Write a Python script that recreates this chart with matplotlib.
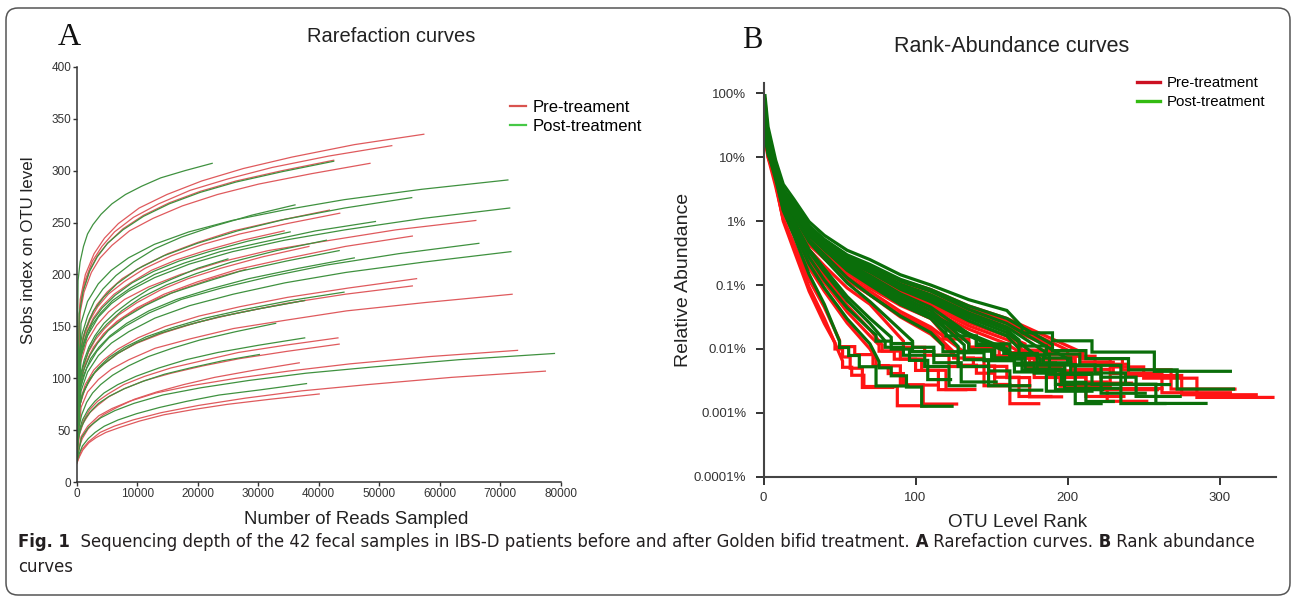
import numpy as np
import matplotlib
matplotlib.use("Agg")
import matplotlib.pyplot as plt
from matplotlib.lines import Line2D
from matplotlib.patches import FancyBboxPatch
from matplotlib.transforms import IdentityTransform

plt.rcParams['font.family'] = ['Liberation Sans', 'DejaVu Sans']

W, H = 1292, 599

# ---- rarefaction: reads sampled (depth) and Sobs read at fractions of each depth ----
RARE_FRAC = [0, 0.01, 0.025, 0.05, 0.08, 0.12, 0.18, 0.26, 0.36, 0.48, 0.62, 0.8, 1.0]

PRE_DEPTH = [57400, 52100, 48500, 42500, 41800, 43500, 66000, 34300, 55500, 38400,
             56200, 55500, 72000, 37700, 43200, 43400, 36800, 72900, 77500, 40100, 28000]
PRE_SOBS = [
    [40, 176, 200, 220, 235, 249, 264, 277, 290, 302, 313, 325, 335],
    [38, 170, 193, 213, 227, 241, 255, 268, 281, 292, 303, 314, 324],
    [36, 161, 183, 202, 216, 228, 242, 254, 266, 277, 287, 297, 307],
    [35, 163, 185, 204, 218, 230, 244, 257, 269, 280, 290, 300, 310],
    [33, 120, 140, 157, 171, 183, 196, 208, 220, 231, 242, 252, 262],
    [32, 118, 138, 156, 169, 181, 193, 206, 218, 229, 239, 249, 259],
    [30, 115, 135, 151, 164, 176, 188, 200, 212, 223, 232, 243, 252],
    [32, 111, 129, 145, 158, 169, 181, 192, 204, 214, 223, 233, 242],
    [28, 94, 113, 130, 143, 155, 168, 181, 193, 205, 215, 227, 237],
    [30, 90, 109, 125, 137, 148, 161, 173, 185, 196, 206, 217, 227],
    [26, 78, 94, 108, 118, 128, 139, 150, 160, 169, 178, 187, 196],
    [25, 75, 90, 104, 114, 124, 134, 144, 154, 163, 172, 181, 189],
    [22, 72, 87, 99, 109, 118, 129, 138, 148, 156, 165, 173, 181],
    [26, 70, 84, 96, 106, 114, 124, 134, 143, 151, 159, 167, 175],
    [22, 48, 59, 70, 78, 85, 94, 102, 110, 117, 125, 132, 139],
    [21, 46, 57, 67, 74, 82, 90, 98, 105, 112, 119, 126, 133],
    [20, 33, 42, 51, 58, 65, 72, 80, 87, 94, 101, 108, 115],
    [20, 44, 54, 64, 71, 78, 86, 93, 100, 107, 114, 121, 127],
    [18, 31, 39, 48, 54, 60, 67, 74, 81, 88, 94, 101, 107],
    [18, 24, 31, 38, 43, 48, 53, 59, 65, 70, 75, 80, 85],
    [30, 82, 98, 113, 124, 134, 146, 157, 167, 177, 186, 196, 205],
]

POST_DEPTH = [22400, 42500, 71300, 55400, 36100, 71600, 49400, 35300, 41300, 66500,
              43400, 71800, 45900, 44200, 37700, 32900, 37700, 30200, 79000, 38000, 25000]
POST_SOBS = [
    [45, 194, 212, 227, 239, 248, 258, 268, 277, 285, 293, 300, 307],
    [38, 162, 184, 203, 217, 230, 243, 256, 268, 279, 289, 299, 309],
    [30, 153, 174, 191, 204, 216, 229, 241, 252, 262, 272, 282, 291],
    [32, 125, 146, 165, 178, 191, 205, 218, 230, 242, 253, 264, 274],
    [35, 122, 143, 160, 174, 186, 199, 212, 225, 236, 246, 257, 267],
    [28, 121, 141, 159, 172, 184, 197, 210, 222, 233, 243, 254, 264],
    [30, 115, 134, 151, 163, 175, 187, 200, 211, 222, 231, 242, 251],
    [33, 110, 129, 145, 157, 168, 180, 192, 203, 213, 222, 232, 241],
    [30, 93, 111, 128, 141, 152, 165, 178, 190, 201, 212, 223, 233],
    [26, 92, 110, 126, 139, 150, 163, 176, 187, 198, 209, 220, 230],
    [28, 89, 107, 122, 134, 146, 158, 170, 182, 192, 203, 213, 223],
    [25, 88, 106, 122, 134, 145, 158, 170, 181, 192, 202, 212, 222],
    [27, 86, 103, 119, 130, 141, 153, 165, 176, 186, 196, 206, 216],
    [26, 73, 87, 100, 110, 120, 130, 140, 149, 158, 166, 175, 183],
    [28, 70, 84, 96, 106, 114, 124, 134, 143, 151, 159, 167, 175],
    [25, 53, 65, 77, 86, 94, 103, 112, 121, 129, 137, 145, 153],
    [23, 49, 60, 70, 78, 86, 94, 102, 110, 118, 125, 132, 139],
    [20, 43, 53, 62, 69, 76, 83, 90, 97, 104, 110, 117, 123],
    [20, 43, 53, 62, 69, 76, 84, 91, 98, 105, 111, 118, 124],
    [19, 27, 35, 42, 48, 54, 60, 66, 72, 78, 84, 89, 95],
    [32, 86, 103, 118, 130, 141, 153, 164, 175, 186, 195, 206, 215],
]

# ---- rank-abundance: % at head ranks, then ranks where read count falls to 4, 3, 2, 1 ----
HEAD_RANKS = [1, 3, 8, 13, 20, 30, 40, 55, 70, 90, 110, 135, 160]

PRE_HEAD = [
    [28, 14, 6, 2.7, 1.7, 0.78, 0.5, 0.285, 0.2, 0.12, 0.085, 0.047, 0.03],
    [35, 15, 6.5, 2.9, 1.8, 0.79, 0.48, 0.27, 0.19, 0.113, 0.08, 0.043, 0.027],
    [22, 12, 5.5, 2.5, 1.6, 0.72, 0.45, 0.256, 0.18, 0.103, 0.07, 0.0365, 0.022],
    [45, 18, 6.5, 2.8, 1.7, 0.76, 0.47, 0.26, 0.18, 0.103, 0.07, 0.039, 0.025],
    [25, 12, 5, 2.25, 1.4, 0.64, 0.4, 0.22, 0.15, 0.08, 0.05, 0.026, 0.016],
    [55, 20, 6.5, 2.65, 1.5, 0.64, 0.38, 0.2, 0.13, 0.07, 0.045, 0.023, 0.014],
    [30, 13, 5.5, 2.36, 1.4, 0.64, 0.4, 0.213, 0.14, 0.077, 0.05, 0.026, 0.016],
    [18, 10, 4.5, 2.05, 1.3, 0.6, 0.38, 0.2, 0.13, 0.066, 0.04],
    [40, 15, 5.5, 2.27, 1.3, 0.58, 0.36, 0.187, 0.12, 0.064, 0.04, 0.0204, 0.012],
    [30, 12, 5, 2.08, 1.2, 0.535, 0.33, 0.163, 0.1, 0.05, 0.03],
    [48, 16, 5, 2.0, 1.1, 0.47, 0.28, 0.135, 0.08, 0.0386, 0.022],
    [25, 11, 4.5, 1.8, 1.0, 0.433, 0.26, 0.121, 0.07, 0.0344, 0.02],
    [35, 13, 4.5, 1.8, 1.0, 0.433, 0.26, 0.121, 0.07, 0.0317, 0.017],
    [60, 18, 5, 1.8, 0.9, 0.36, 0.2, 0.09, 0.05],
    [40, 14, 4.5, 1.61, 0.8, 0.285, 0.14, 0.048, 0.02],
    [70, 20, 5, 1.59, 0.7, 0.236, 0.11, 0.038, 0.016],
    [30, 10, 3.5, 1.07, 0.45, 0.121, 0.045],
    [45, 15, 4.5, 1.4, 0.6, 0.186, 0.08, 0.0255, 0.01],
    [65, 18, 4, 1.07, 0.4, 0.093, 0.03],
    [80, 20, 4, 1.0, 0.35, 0.08, 0.025],
    [35, 13, 5, 2.08, 1.2, 0.527, 0.32, 0.153, 0.09, 0.048, 0.03],
]
PRE_TAIL = [
    [210, 228, 250, 285], [200, 218, 240, 275], [190, 208, 230, 262], [188, 210, 236, 268],
    [172, 188, 205, 228], [168, 185, 203, 222], [175, 192, 212, 226], [140, 160, 180, 205],
    [168, 182, 198, 212], [135, 152, 172, 195], [132, 145, 160, 175], [125, 138, 152, 168],
    [128, 140, 152, 162], [92, 106, 122, 145], [78, 90, 104, 120], [76, 86, 100, 115],
    [50, 60, 72, 90], [74, 82, 92, 105], [52, 58, 66, 88], [47, 52, 57, 65],
    [118, 135, 155, 178],
]

POST_HEAD = [
    [92, 30, 9, 3.78, 2.2, 0.98, 0.6, 0.35, 0.25, 0.145, 0.1, 0.059, 0.04],
    [30, 14, 6.5, 3.0, 1.9, 0.845, 0.52, 0.297, 0.21, 0.123, 0.085, 0.047, 0.03],
    [35, 15, 6.5, 2.9, 1.8, 0.81, 0.5, 0.285, 0.2, 0.116, 0.08, 0.0416, 0.025],
    [25, 12, 6, 2.72, 1.7, 0.76, 0.47, 0.26, 0.18, 0.103, 0.07, 0.0365, 0.022],
    [50, 20, 7.5, 3.2, 1.9, 0.83, 0.5, 0.27, 0.18, 0.1, 0.065, 0.0335, 0.02],
    [28, 13, 6, 2.63, 1.6, 0.713, 0.44, 0.246, 0.17, 0.093, 0.06, 0.0306, 0.018],
    [42, 17, 6.5, 2.74, 1.6, 0.697, 0.42, 0.233, 0.16, 0.086, 0.055, 0.0276, 0.016],
    [22, 11, 5.5, 2.44, 1.5, 0.675, 0.42, 0.218, 0.14, 0.073, 0.045],
    [33, 14, 6, 2.55, 1.5, 0.66, 0.4, 0.205, 0.13, 0.066, 0.04],
    [55, 20, 7, 2.85, 1.6, 0.68, 0.4, 0.197, 0.12, 0.06, 0.035, 0.0174, 0.01],
    [35, 14, 5.5, 2.36, 1.4, 0.62, 0.38, 0.192, 0.12, 0.06, 0.035],
    [30, 13, 5.5, 2.36, 1.4, 0.61, 0.37, 0.182, 0.11, 0.055, 0.033, 0.016, 0.009],
    [45, 16, 6, 2.46, 1.4, 0.6, 0.36, 0.17, 0.1, 0.05, 0.03],
    [30, 12, 5, 2.08, 1.2, 0.51, 0.3, 0.13, 0.07, 0.0327, 0.018],
    [60, 19, 6, 2.28, 1.2, 0.475, 0.26, 0.108, 0.055],
    [35, 13, 5, 1.9, 1.0, 0.36, 0.18, 0.066, 0.03],
    [40, 14, 5, 1.85, 0.95, 0.33, 0.16, 0.057, 0.025],
    [55, 17, 5, 1.75, 0.85, 0.271, 0.12, 0.044, 0.02],
    [33, 12, 4.5, 1.51, 0.7, 0.213, 0.09, 0.0296, 0.012],
    [70, 20, 5, 1.47, 0.6, 0.147, 0.05],
    [48, 17, 6, 2.46, 1.4, 0.6, 0.36, 0.179, 0.11, 0.057, 0.035],
]
POST_TAIL = [
    [170, 190, 216, 257], [190, 212, 240, 272], [200, 218, 238, 258], [185, 202, 222, 245],
    [168, 186, 208, 235], [182, 198, 216, 235], [168, 184, 202, 222], [140, 158, 180, 205],
    [135, 152, 172, 198], [165, 180, 196, 212], [132, 150, 170, 192], [165, 178, 192, 205],
    [128, 145, 165, 186], [118, 132, 148, 162], [98, 112, 128, 148], [84, 98, 112, 130],
    [80, 92, 106, 122], [74, 84, 96, 108], [76, 84, 94, 104], [50, 56, 63, 74],
    [120, 140, 162, 188],
]

TICK_PCT = [1e-4, 1e-3, 1e-2, 0.1, 1, 10, 100]
TICK_PCT_LABELS = ['0.0001%', '0.001%', '0.01%', '0.1%', '1%', '10%', '100%']


def px_rect(x0, y0, x1, y1):
    return [x0 / W, 1 - y1 / H, (x1 - x0) / W, (y1 - y0) / H]


def fx(x):
    return x / W


def fy(y):
    return 1 - y / H


def rank_curve(head, tail, n_reads, sobs):
    xs = list(HEAD_RANKS[:len(head)])
    ys = list(head)
    for k, r in zip([4, 3, 2, 1], tail):
        xs += [r, r]
        ys += [100.0 * (k + 1) / n_reads, 100.0 * k / n_reads]
    xs.append(sobs)
    ys.append(100.0 / n_reads)
    return xs, ys


fig = plt.figure(figsize=(W / 100, H / 100), dpi=100)

# outer rounded frame
frame = FancyBboxPatch((6, H - 595), 1284, 587, boxstyle='round,pad=0,rounding_size=12',
                       transform=IdentityTransform(), facecolor='none',
                       edgecolor='#555555', lw=1.1)
fig.add_artist(frame)

# ---------------- panel A ----------------
axA = fig.add_axes(px_rect(76.7, 66.7, 560.5, 482.3))
for depth, sobs in zip(PRE_DEPTH, PRE_SOBS):
    axA.plot(np.array(RARE_FRAC) * depth, sobs, color='#df5a5d', lw=0.9)
for depth, sobs in zip(POST_DEPTH, POST_SOBS):
    axA.plot(np.array(RARE_FRAC) * depth, sobs, color='#3f913f', lw=0.9)
axA.set_xlim(0, 80000)
axA.set_ylim(0, 400)
axA.set_xticks(range(0, 80001, 10000))
axA.set_yticks(range(0, 401, 50))
for s in ['top', 'right']:
    axA.spines[s].set_visible(False)
for s in ['left', 'bottom']:
    axA.spines[s].set_color('#333333')
    axA.spines[s].set_linewidth(1.1)
axA.tick_params(length=3, width=1.0, colors='#333333', labelsize=8.5, pad=1)
axA.legend(handles=[Line2D([], [], color='#d9534f', lw=1.6),
                    Line2D([], [], color='#46c846', lw=1.6)],
           labels=['Pre-treament', 'Post-treatment'], loc='upper left',
           bbox_to_anchor=(fx(510), fy(100)), bbox_transform=fig.transFigure,
           frameon=False, fontsize=12, handlelength=0.95, handletextpad=0.4,
           borderpad=0, borderaxespad=0, labelspacing=0.25)

fig.text(fx(69.6), fy(37.3), 'A', family='Liberation Serif', fontsize=23,
         ha='center', va='center', color='#111111')
fig.text(fx(390.7), fy(36.7), 'Rarefaction curves', fontsize=14.5, ha='center',
         va='center', color='#222222')
fig.text(fx(28.5), fy(250), 'Sobs index on OTU level', fontsize=12.2, rotation=90,
         ha='center', va='center', color='#222222')
fig.text(fx(356), fy(520), 'Number of Reads Sampled', fontsize=13.4, ha='center',
         va='center', color='#222222')

# ---------------- panel B ----------------
axB = fig.add_axes(px_rect(763.5, 82.7, 1276, 476.7))
for head, tail, n, sobs in zip(PRE_HEAD, PRE_TAIL, PRE_DEPTH, PRE_SOBS):
    xs, ys = rank_curve(head, tail, n, sobs[-1])
    axB.plot(xs, ys, color='#ff1414', lw=2.3, solid_joinstyle='miter')
for head, tail, n, sobs in zip(POST_HEAD, POST_TAIL, POST_DEPTH, POST_SOBS):
    xs, ys = rank_curve(head, tail, n, sobs[-1])
    axB.plot(xs, ys, color='#0a6e0a', lw=2.3, solid_joinstyle='miter')
axB.set_yscale('log')
axB.set_xlim(0, 337)
axB.set_ylim(1e-4, 147)
axB.set_xticks([0, 100, 200, 300])
axB.set_yticks(TICK_PCT)
axB.set_yticklabels(TICK_PCT_LABELS)
axB.minorticks_off()
for s in ['top', 'right']:
    axB.spines[s].set_visible(False)
for s in ['left', 'bottom']:
    axB.spines[s].set_color('#444444')
    axB.spines[s].set_linewidth(1.5)
axB.tick_params(length=6, width=1.4, colors='#333333', labelsize=9.5)
axB.tick_params(axis='y', pad=6.5)
axB.tick_params(axis='x', pad=5)
axB.legend(handles=[Line2D([], [], color='#cc1122', lw=2.4),
                    Line2D([], [], color='#33bb11', lw=2.4)],
           labels=['Pre-treatment', 'Post-treatment'], loc='upper left',
           bbox_to_anchor=(fx(1137), fy(76)), bbox_transform=fig.transFigure,
           frameon=False, fontsize=10.8, handlelength=1.55, handletextpad=0.45,
           borderpad=0, borderaxespad=0, labelspacing=0.35)

fig.text(fx(752), fy(40), 'B', family='Liberation Serif', fontsize=22,
         ha='center', va='center', color='#111111')
fig.text(fx(1012), fy(47), 'Rank-Abundance curves', fontsize=15.5, ha='center',
         va='center', color='#222222')
fig.text(fx(683.5), fy(280), 'Relative Abundance', fontsize=14, rotation=90,
         ha='center', va='center', color='#222222')
fig.text(fx(1018), fy(522.7), 'OTU Level Rank', fontsize=13.6, ha='center',
         va='center', color='#222222')

# ---------------- caption ----------------
cap_kw = dict(fontsize=11.9, family='DejaVu Sans', color='#231f20')
pieces = [('  Sequencing depth of the 42 fecal samples in IBS-D patients before and after '
           'Golden bifid treatment.', 'normal'),
          (' A', 'bold'), (' Rarefaction curves.', 'normal'),
          (' B', 'bold'), (' Rank abundance', 'normal')]
prev = fig.text(fx(18), fy(551), 'Fig. 1', fontweight='bold', va='bottom', ha='left',
                **cap_kw)
for txt, wt in pieces:
    prev = axB.annotate(txt, xy=(1, 0), xycoords=prev, va='bottom', ha='left',
                        fontweight=wt, annotation_clip=False, **cap_kw)
fig.text(fx(18), fy(576), 'curves', va='bottom', ha='left', **cap_kw)

fig.savefig('out.png', dpi=100)
